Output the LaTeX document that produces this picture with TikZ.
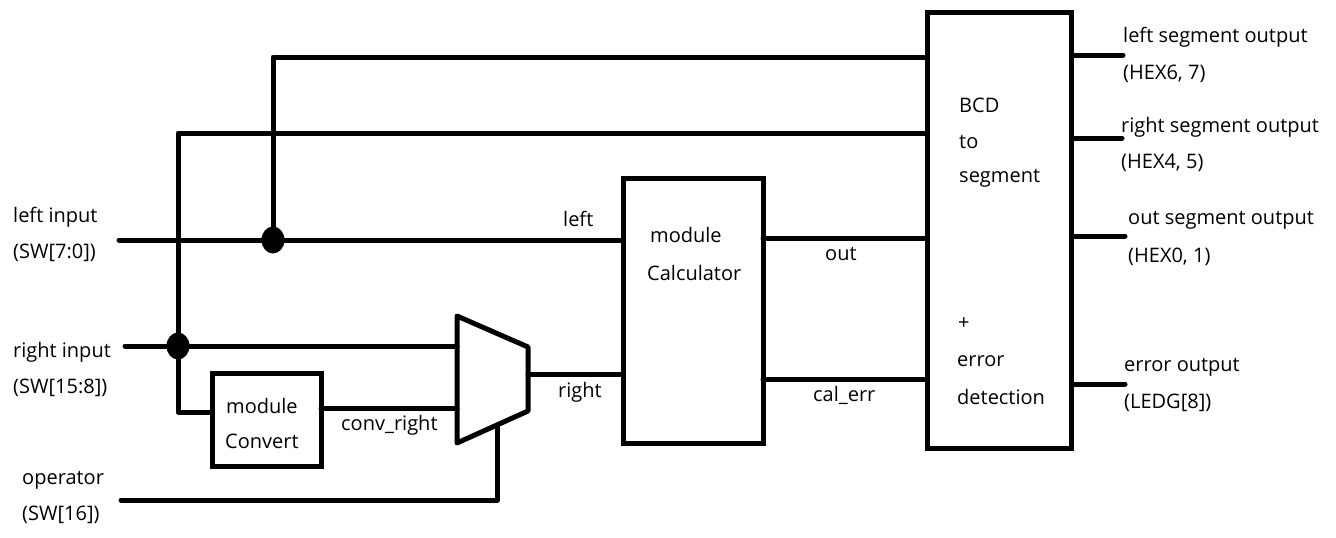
\documentclass[tikz,border=0pt]{standalone}
\usepackage{fontspec}
\setmainfont{Open Sans}
\usetikzlibrary{shapes.geometric}
\begin{document}
\begin{tikzpicture}[x=1pt,y=-1pt,
  wire/.style={line width=5pt,line cap=round,line join=round},
  blk/.style={draw,line width=5pt,rectangle,inner sep=0pt},
  lbl/.style={anchor=west,inner sep=0pt,font=\fontsize{20}{22}\selectfont},
  dotnode/.style={fill,ellipse,minimum width=23pt,minimum height=27pt,inner sep=0pt}]
\useasboundingbox (0,0) rectangle (1336,538);
% blocks
\node[blk,minimum width=140pt,minimum height=265pt] (calc) at (693,310.5) {};
\node[blk,minimum width=144pt,minimum height=436pt] (bcd) at (999,230) {};
\node[blk,minimum width=109pt,minimum height=93pt] (conv) at (266.5,419.5) {};
% mux
\coordinate (muxTL) at (457,316);
\coordinate (muxBL) at (457,443);
\coordinate (muxTR) at (528,347);
\coordinate (muxBR) at (528,411);
\coordinate (muxsel) at (497,425);
\draw[wire] (muxTL) -- (muxTR) -- (muxBR) -- (muxBL) -- cycle;
% coordinates
\coordinate (lin) at (119,240);
\coordinate (rin) at (125,346);
\coordinate (op) at (121,500);
\coordinate (t1) at (273,57);
\coordinate (t2) at (178,133);
\coordinate (c2) at (178,412);
\coordinate (cv) at (321,408);
\coordinate (mo) at (528,374);
\coordinate (co) at (763,238);
\coordinate (ce) at (763,379);
\node[dotnode] (dotL) at (273,240) {};
\node[dotnode] (dotR) at (178,346) {};
% wires
\draw[wire] (lin) -- (lin -| calc.west);
\draw[wire] (dotL.center) -- (t1) -- (t1 -| bcd.west);
\draw[wire] (t2 -| bcd.west) -- (t2) -- (c2) -- (c2 -| conv.west);
\draw[wire] (rin) -- (rin -| muxTL);
\draw[wire] (cv) -- (cv -| muxTL);
\draw[wire] (mo) -- (mo -| calc.west);
\draw[wire] (op) -- (op -| muxsel) -- (muxsel);
\draw[wire] (co) -- (co -| bcd.west);
\draw[wire] (ce) -- (ce -| bcd.west);
\coordinate (o1) at (1123,55);
\coordinate (o2) at (1122,138);
\coordinate (o3) at (1125,236);
\coordinate (o4) at (1125,384);
\draw[wire] (o1 -| bcd.east) -- (o1);
\draw[wire] (o2 -| bcd.east) -- (o2);
\draw[wire] (o3 -| bcd.east) -- (o3);
\draw[wire] (o4 -| bcd.east) -- (o4);
% left labels
\node[lbl] (l1) at (13,217) {left input};
\node[lbl] (l2) at (13,253) {(SW[7:0])};
\node[lbl] (l3) at (13,352) {right input};
\node[lbl] (l4) at (13,388) {(SW[15:8])};
\node[lbl] (l5) at (22,480) {operator};
\node[lbl] (l6) at (22,515) {(SW[16])};
% convert text
\node[lbl] (cv1) at (226,406) {module};
\node[lbl] (cv2) at (225,441) {Convert};
\node[lbl] (cvr) at (341,425) {conv\_right};
% wire labels
\node[lbl] (wl) at (563,219) {left};
\node[lbl] (wr) at (558,392) {right};
\node[lbl] (wo) at (825,254) {out};
\node[lbl] (we) at (813,395) {cal\_err};
% calc text
\node[lbl] (ca1) at (650,235) {module};
\node[lbl] (ca2) at (647,273) {Calculator};
% bcd text
\node[lbl] (b1) at (959,105) {BCD};
\node[lbl] (b2) at (959,142) {to};
\node[lbl] (b3) at (959,178) {segment};
\node[lbl] (b4) at (958,324) {+};
\node[lbl] (b5) at (957,361) {error};
\node[lbl] (b6) at (957,397) {detection};
% output labels
\node[lbl] (r1) at (1123,37) {left segment output};
\node[lbl] (r2) at (1123,74) {(HEX6, 7)};
\node[lbl] (r3) at (1121,127) {right segment output};
\node[lbl] (r4) at (1121,163) {(HEX4, 5)};
\node[lbl] (r5) at (1128,220) {out segment output};
\node[lbl] (r6) at (1128,257) {(HEX0, 1)};
\node[lbl] (r7) at (1124,367) {error output};
\node[lbl] (r8) at (1124,403) {(LEDG[8])};
\end{tikzpicture}
\end{document}
